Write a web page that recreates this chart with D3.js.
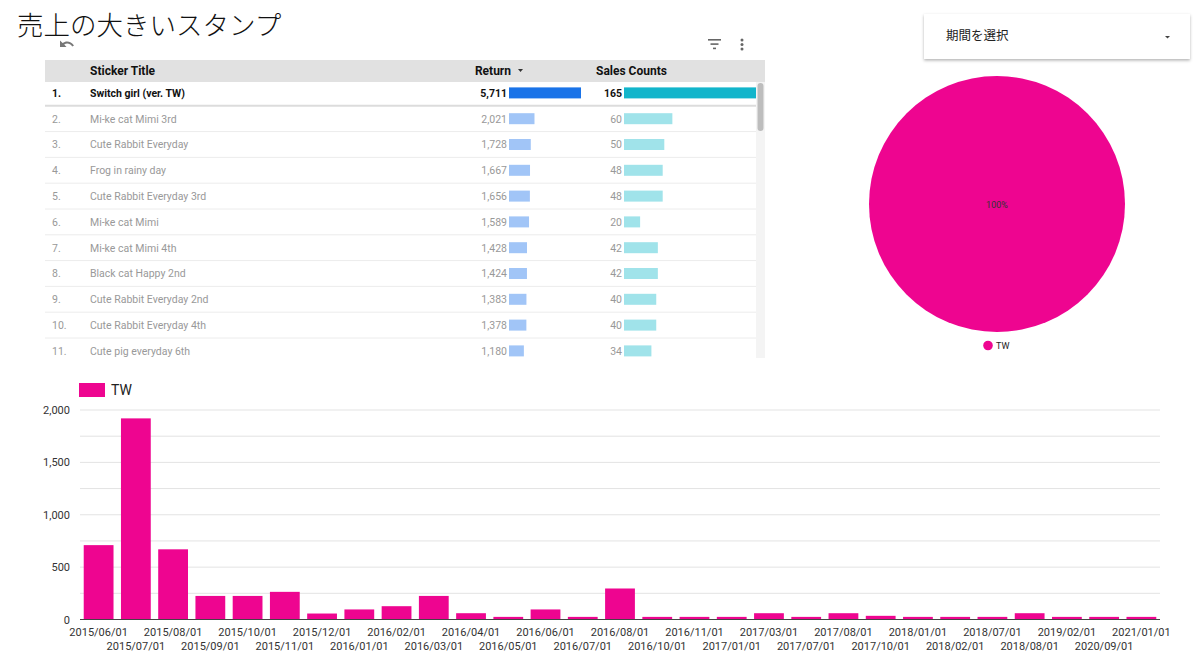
<!DOCTYPE html>
<html><head><meta charset="utf-8">
<script src="https://cdn.jsdelivr.net/npm/d3@7"></script>
<style>
html,body{margin:0;padding:0;background:#fff;}
svg{display:block;font-family:Roboto, "Noto Sans", sans-serif;}
</style></head>
<body>
<svg id="c" width="1200" height="664"></svg>
<script>
// ---------- data ----------
const titleText = "売上の大きいスタンプ";
const dropdownLabel = "期間を選択";
const tableHeaders = ["Sticker Title", "Return", "Sales Counts"];
const stickerTitles = ["Switch girl (ver. TW)","Mi-ke cat Mimi 3rd","Cute Rabbit Everyday","Frog in rainy day","Cute Rabbit Everyday 3rd","Mi-ke cat Mimi","Mi-ke cat Mimi 4th","Black cat Happy 2nd","Cute Rabbit Everyday 2nd","Cute Rabbit Everyday 4th","Cute pig everyday 6th"];
const returnValues = [5711,2021,1728,1667,1656,1589,1428,1424,1383,1378,1180];
const salesCounts = [165,60,50,48,48,20,42,42,40,40,34];
const pieLabels = ["TW"];
const pieValues = [1];
const months = ["2015/06/01","2015/07/01","2015/08/01","2015/09/01","2015/10/01","2015/11/01","2015/12/01","2016/01/01","2016/02/01","2016/03/01","2016/04/01","2016/05/01","2016/06/01","2016/07/01","2016/08/01","2016/10/01","2016/11/01","2017/01/01","2017/03/01","2017/07/01","2017/08/01","2017/10/01","2018/01/01","2018/02/01","2018/07/01","2018/08/01","2019/02/01","2020/09/01","2021/01/01"];
const twValues = [710,1920,670,225,225,264,57,96,127,225,60,25,96,25,296,25,25,25,60,25,60,35,25,25,25,60,25,25,25];
const yTicks = [0,500,1000,1500,2000];
const yGrid = [0,250,500,750,1000,1250,1500,1750,2000];

const PINK = "#ee0590";
const svg = d3.select("#c");

// ---------- title ----------
svg.append("text").attr("x",17).attr("y",35)
  .attr("font-family","'Noto Sans CJK JP', sans-serif").attr("font-weight",300)
  .attr("font-size",26.5).attr("fill","#111").text(titleText);
// undo icon
svg.append("path").attr("d","M60,47 L60,40.5 L62.6,43 C66,40.3 71,41 74,45.5 L72.2,46.4 C70,43.3 66.6,42.9 64.2,44.6 L66.5,47 Z")
  .attr("fill","#777");

// ---------- table ----------
const tX0 = 45, tX1 = 765;
const tbl = svg.append("g");
tbl.append("rect").attr("x",tX0).attr("y",60).attr("width",tX1-tX0).attr("height",22).attr("fill","#e1e1e1");
tbl.append("text").attr("x",90).attr("y",75).attr("font-size",12).attr("font-weight",700).attr("fill","#111").text(tableHeaders[0]);
tbl.append("text").attr("x",511).attr("y",75).attr("text-anchor","end").attr("font-size",12).attr("font-weight",700).attr("fill","#111").text(tableHeaders[1]);
tbl.append("path").attr("d","M518,69 L523,69 L520.5,72 Z").attr("fill","#333");
tbl.append("text").attr("x",596).attr("y",75).attr("font-size",12).attr("font-weight",700).attr("fill","#111").text(tableHeaders[2]);
// icons
const ic = svg.append("g").attr("fill","#666");
ic.append("rect").attr("x",708).attr("y",39).attr("width",13).attr("height",1.6);
ic.append("rect").attr("x",710.5).attr("y",43.3).attr("width",8).attr("height",1.6);
ic.append("rect").attr("x",713).attr("y",47.6).attr("width",3).attr("height",1.6);
[40,44.5,49].forEach(y=>ic.append("circle").attr("cx",742).attr("cy",y).attr("r",1.5));

const rowY = d3.scaleBand().domain(d3.range(stickerTitles.length)).range([80, 80+25.8*stickerTitles.length]);
const retScale = d3.scaleLinear().domain([0, d3.max(returnValues)]).range([0,72]);
const cntScale = d3.scaleLinear().domain([0, d3.max(salesCounts)]).range([0,133]);
const clip = svg.append("defs").append("clipPath").attr("id","tclip");
clip.append("rect").attr("x",tX0).attr("y",82).attr("width",tX1-tX0).attr("height",276);
const rows = tbl.append("g").attr("clip-path","url(#tclip)").selectAll("g").data(stickerTitles).join("g")
  .attr("transform",(d,i)=>`translate(0,${rowY(i)})`);
rows.append("line").attr("x1",tX0).attr("x2",757).attr("y1",rowY.bandwidth()).attr("y2",rowY.bandwidth())
  .attr("stroke",(d,i)=>i===0?"#dcdcdc":"#ececec").attr("stroke-width",(d,i)=>i===0?2:1);
const mid = rowY.bandwidth()/2;
rows.append("text").attr("x",52).attr("y",mid+4).attr("font-size",10.5)
  .attr("font-weight",(d,i)=>i===0?700:400).attr("fill",(d,i)=>i===0?"#111":"#999").text((d,i)=>(i+1)+".");
rows.append("text").attr("x",90).attr("y",mid+4).attr("font-size",10.5)
  .attr("font-weight",(d,i)=>i===0?700:400).attr("fill",(d,i)=>i===0?"#111":"#999").text(d=>d);
rows.append("text").attr("x",507).attr("y",mid+4).attr("text-anchor","end").attr("font-size",10.5)
  .attr("font-weight",(d,i)=>i===0?700:400).attr("fill",(d,i)=>i===0?"#111":"#999").text((d,i)=>d3.format(",")(returnValues[i]));
rows.append("rect").attr("x",509).attr("y",mid-5.5).attr("height",11).attr("width",(d,i)=>retScale(returnValues[i]))
  .attr("fill",(d,i)=>i===0?"#1a73e8":"#a1c5f7");
rows.append("text").attr("x",622).attr("y",mid+4).attr("text-anchor","end").attr("font-size",10.5)
  .attr("font-weight",(d,i)=>i===0?700:400).attr("fill",(d,i)=>i===0?"#111":"#999").text((d,i)=>salesCounts[i]);
rows.append("rect").attr("x",624).attr("y",mid-5.5).attr("height",11).attr("width",(d,i)=>cntScale(salesCounts[i]))
  .attr("fill",(d,i)=>i===0?"#12b5cb":"#a0e3ea");
// scrollbar
tbl.append("rect").attr("x",756).attr("y",82).attr("width",9).attr("height",276).attr("fill","#f4f4f4");
tbl.append("rect").attr("x",757.5).attr("y",83).attr("width",6).attr("height",48).attr("rx",3).attr("fill","#bdbdbd");

// ---------- dropdown ----------
const dd = svg.append("g");
const f = svg.append("defs").append("filter").attr("id","sh").attr("x","-10%").attr("y","-20%").attr("width","120%").attr("height","150%");
f.append("feDropShadow").attr("dx",0).attr("dy",1.5).attr("stdDeviation",1.5).attr("flood-color","#000").attr("flood-opacity",0.3);
dd.append("rect").attr("x",924).attr("y",14).attr("width",266).attr("height",45).attr("fill","#fff").attr("filter","url(#sh)");
dd.append("text").attr("x",946).attr("y",40).attr("font-family","'Noto Sans CJK JP', sans-serif").attr("font-size",12.5).attr("fill","#222").text(dropdownLabel);
dd.append("path").attr("d","M1165,36 L1170,36 L1167.5,38.5 Z").attr("fill","#444");

// ---------- pie ----------
const pieG = svg.append("g").attr("transform","translate(997,204)");
const arcs = d3.pie().sort(null)(pieValues);
pieG.selectAll("path").data(arcs).join("path").attr("d",d3.arc().innerRadius(0).outerRadius(128)).attr("fill",PINK);
pieG.selectAll("text.l").data(arcs).join("text").attr("class","l").attr("text-anchor","middle").attr("y",3.5)
  .attr("font-size",9).attr("fill","#333").text(d=>d3.format(".0%")(d.value/d3.sum(pieValues)));
svg.append("circle").attr("cx",988).attr("cy",345.5).attr("r",4.8).attr("fill",PINK);
svg.append("text").attr("x",996).attr("y",349).attr("font-size",9).attr("fill","#222").text(pieLabels[0]);

// ---------- bar chart ----------
const x = d3.scaleBand().domain(months).range([80,1160]).paddingInner(0.2).paddingOuter(0.1);
const y = d3.scaleLinear().domain([0,2000]).range([619.5,410]);
const bc = svg.append("g");
bc.selectAll("line.g").data(yGrid.slice(1)).join("line").attr("class","g")
  .attr("x1",80).attr("x2",1160).attr("y1",d=>y(d)).attr("y2",d=>y(d)).attr("stroke","#e3e3e3");
bc.selectAll("rect").data(months).join("rect")
  .attr("x",d=>x(d)).attr("width",x.bandwidth())
  .attr("y",(d,i)=>y(twValues[i])).attr("height",(d,i)=>y(0)-y(twValues[i])).attr("fill",PINK);
bc.append("line").attr("x1",80).attr("x2",1160).attr("y1",y(0)).attr("y2",y(0)).attr("stroke","#444");
const yAxis = bc.append("g").attr("transform","translate(70,0)")
  .call(d3.axisLeft(y).tickValues(yTicks).tickSize(0).tickPadding(0).tickFormat(d3.format(",")));
yAxis.select(".domain").remove();
yAxis.selectAll("text").attr("font-family","Roboto, sans-serif").attr("font-size",11).attr("fill","#333");
const xAxis = bc.append("g").attr("transform",`translate(0,${y(0)})`)
  .call(d3.axisBottom(x).tickSize(0).tickPadding(0));
xAxis.select(".domain").remove();
xAxis.selectAll("text").attr("font-family","Roboto, sans-serif").attr("font-size",11).attr("fill","#333")
  .attr("dy",null).attr("y",(d,i)=>i%2===0?16:30);
// legend
svg.append("rect").attr("x",79).attr("y",383).attr("width",26).attr("height",14).attr("fill",PINK);
svg.append("text").attr("x",111).attr("y",395).attr("font-size",14).attr("fill","#222").text("TW");
</script>
</body></html>
